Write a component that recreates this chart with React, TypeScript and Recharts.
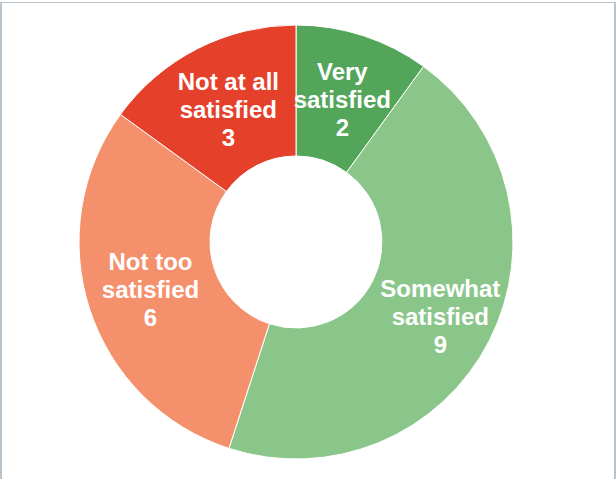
import React from 'react';
import { PieChart, Pie, Cell } from 'recharts';

// Satisfaction categories, clockwise from 12 o'clock
const CATEGORIES = ['Very satisfied', 'Somewhat satisfied', 'Not too satisfied', 'Not at all satisfied'];
const LABEL_LINES = [
    ['Very', 'satisfied'],
    ['Somewhat', 'satisfied'],
    ['Not too', 'satisfied'],
    ['Not at all', 'satisfied'],
];
const VALUES = [2, 9, 6, 3];

const COLORS = ['#53a55a', '#8ac68a', '#f5906c', '#e5402a'];
// small per-slice nudge of label radius to match the original placement
const LABEL_R = [150, 162, 153, 149];

const RADIAN = Math.PI / 180;

const chartData = CATEGORIES.map((name, i) => ({ name, value: VALUES[i] }));

// eslint-disable-next-line @typescript-eslint/no-explicit-any
const renderLabel = (props: any) => {
    const { cx, cy, midAngle, index, value } = props;
    const r = LABEL_R[index];
    const x = cx + r * Math.cos(-midAngle * RADIAN);
    const y = cy + r * Math.sin(-midAngle * RADIAN);
    const lines = [...LABEL_LINES[index], String(value)];
    const lh = 28;
    const startY = y - ((lines.length - 1) * lh) / 2;
    return (
        <text
            x={x}
            y={startY}
            fill="#ffffff"
            textAnchor="middle"
            dominantBaseline="central"
            fontFamily="'Liberation Sans', Arial, sans-serif"
            fontWeight="bold"
            fontSize={24}
        >
            {lines.map((ln, i) => (
                <tspan key={i} x={x} y={startY + i * lh}>
                    {ln}
                </tspan>
            ))}
        </text>
    );
};

export default function App() {
    return (
        <div style={{ position: 'fixed', left: 0, top: 0, width: 616, height: 479, background: '#fff', overflow: 'hidden' }}>
            <div
                style={{
                    position: 'absolute',
                    left: 0,
                    top: 2,
                    width: 612,
                    height: 520,
                    borderLeft: '2px solid #b9c3cb',
                    borderTop: '1px solid #b9c3cb',
                    borderRight: '2px solid #b9c3cb',
                }}
            />
            <div style={{ position: 'absolute', left: 0, top: 0 }}>
                <PieChart width={616} height={479} margin={{ top: 0, right: 0, bottom: 0, left: 0 }}>
                    <Pie
                        data={chartData}
                        dataKey="value"
                        nameKey="name"
                        cx={296}
                        cy={242}
                        innerRadius={86}
                        outerRadius={217}
                        startAngle={90}
                        endAngle={-270}
                        stroke="#ffffff"
                        strokeWidth={1}
                        label={renderLabel}
                        labelLine={false}
                        isAnimationActive={false}
                    >
                        {chartData.map((_, i) => (
                            <Cell key={i} fill={COLORS[i]} />
                        ))}
                    </Pie>
                </PieChart>
            </div>
        </div>
    );
}
